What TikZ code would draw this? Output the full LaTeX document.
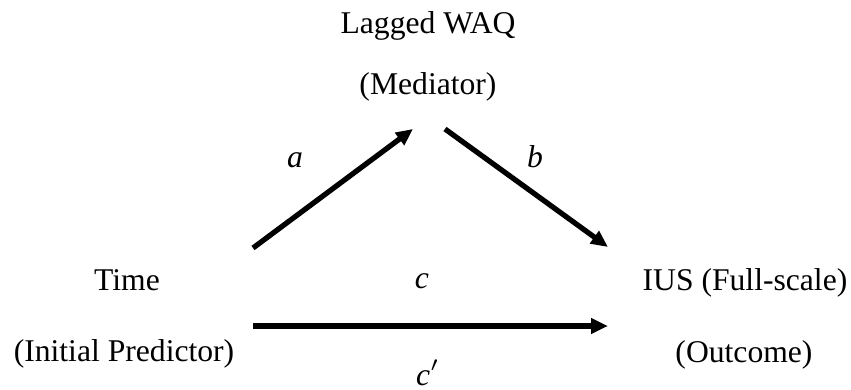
\documentclass[tikz,border=0pt]{standalone}
\usepackage{fontspec}
\setmainfont{Liberation Serif}
\usepackage{tikz}
\usetikzlibrary{arrows.meta, positioning, calc}

\begin{document}
\begin{tikzpicture}[
    lbl/.style={anchor=base, inner sep=0pt, font=\fontsize{9}{11}\selectfont},
    path/.style={line width=1.5pt, -{Triangle[length=4.8pt, width=4.2pt]}}
  ]
  \useasboundingbox (0,0) rectangle (8.51,3.89);
  % Mediator
  \node[lbl] (waq) at (4.28, 3.56) {Lagged WAQ};
  \node[lbl] (med) at (4.28, 2.95) {(Mediator)};
  % Predictor
  \node[lbl] (time) at (1.27, 0.99) {Time};
  \node[lbl] (pred) at (1.24, 0.28) {(Initial Predictor)};
  % Outcome
  \node[lbl] (ius) at (7.45, 0.99) {IUS (Full-scale)};
  \node[lbl] (out) at (7.44, 0.27) {(Outcome)};
  % Arrow ends
  \coordinate (pred-up) at (2.53, 1.41);
  \coordinate (pred-right) at (2.53, 0.63);
  \coordinate (med-in) at (4.13, 2.60);
  \coordinate (med-out) at (4.45, 2.60);
  \coordinate (out-up) at (6.08, 1.42);
  \coordinate (out-left) at (6.08, 0.63);
  % Paths
  \draw[path] (pred-up) -- (med-in);
  \draw[path] (med-out) -- (out-up);
  \draw[path] (pred-right) -- (out-left);
  % Path labels
  \node[lbl] (a) at (2.95, 2.22) {\textit{a}};
  \node[lbl] (b) at (5.35, 2.22) {\textit{b}};
  \node[lbl] (c) at (4.22, 1.01) {\textit{c}};
  \node[lbl] (cp) at (4.28, 0.04) {\textit{c}$'$};
\end{tikzpicture}
\end{document}
